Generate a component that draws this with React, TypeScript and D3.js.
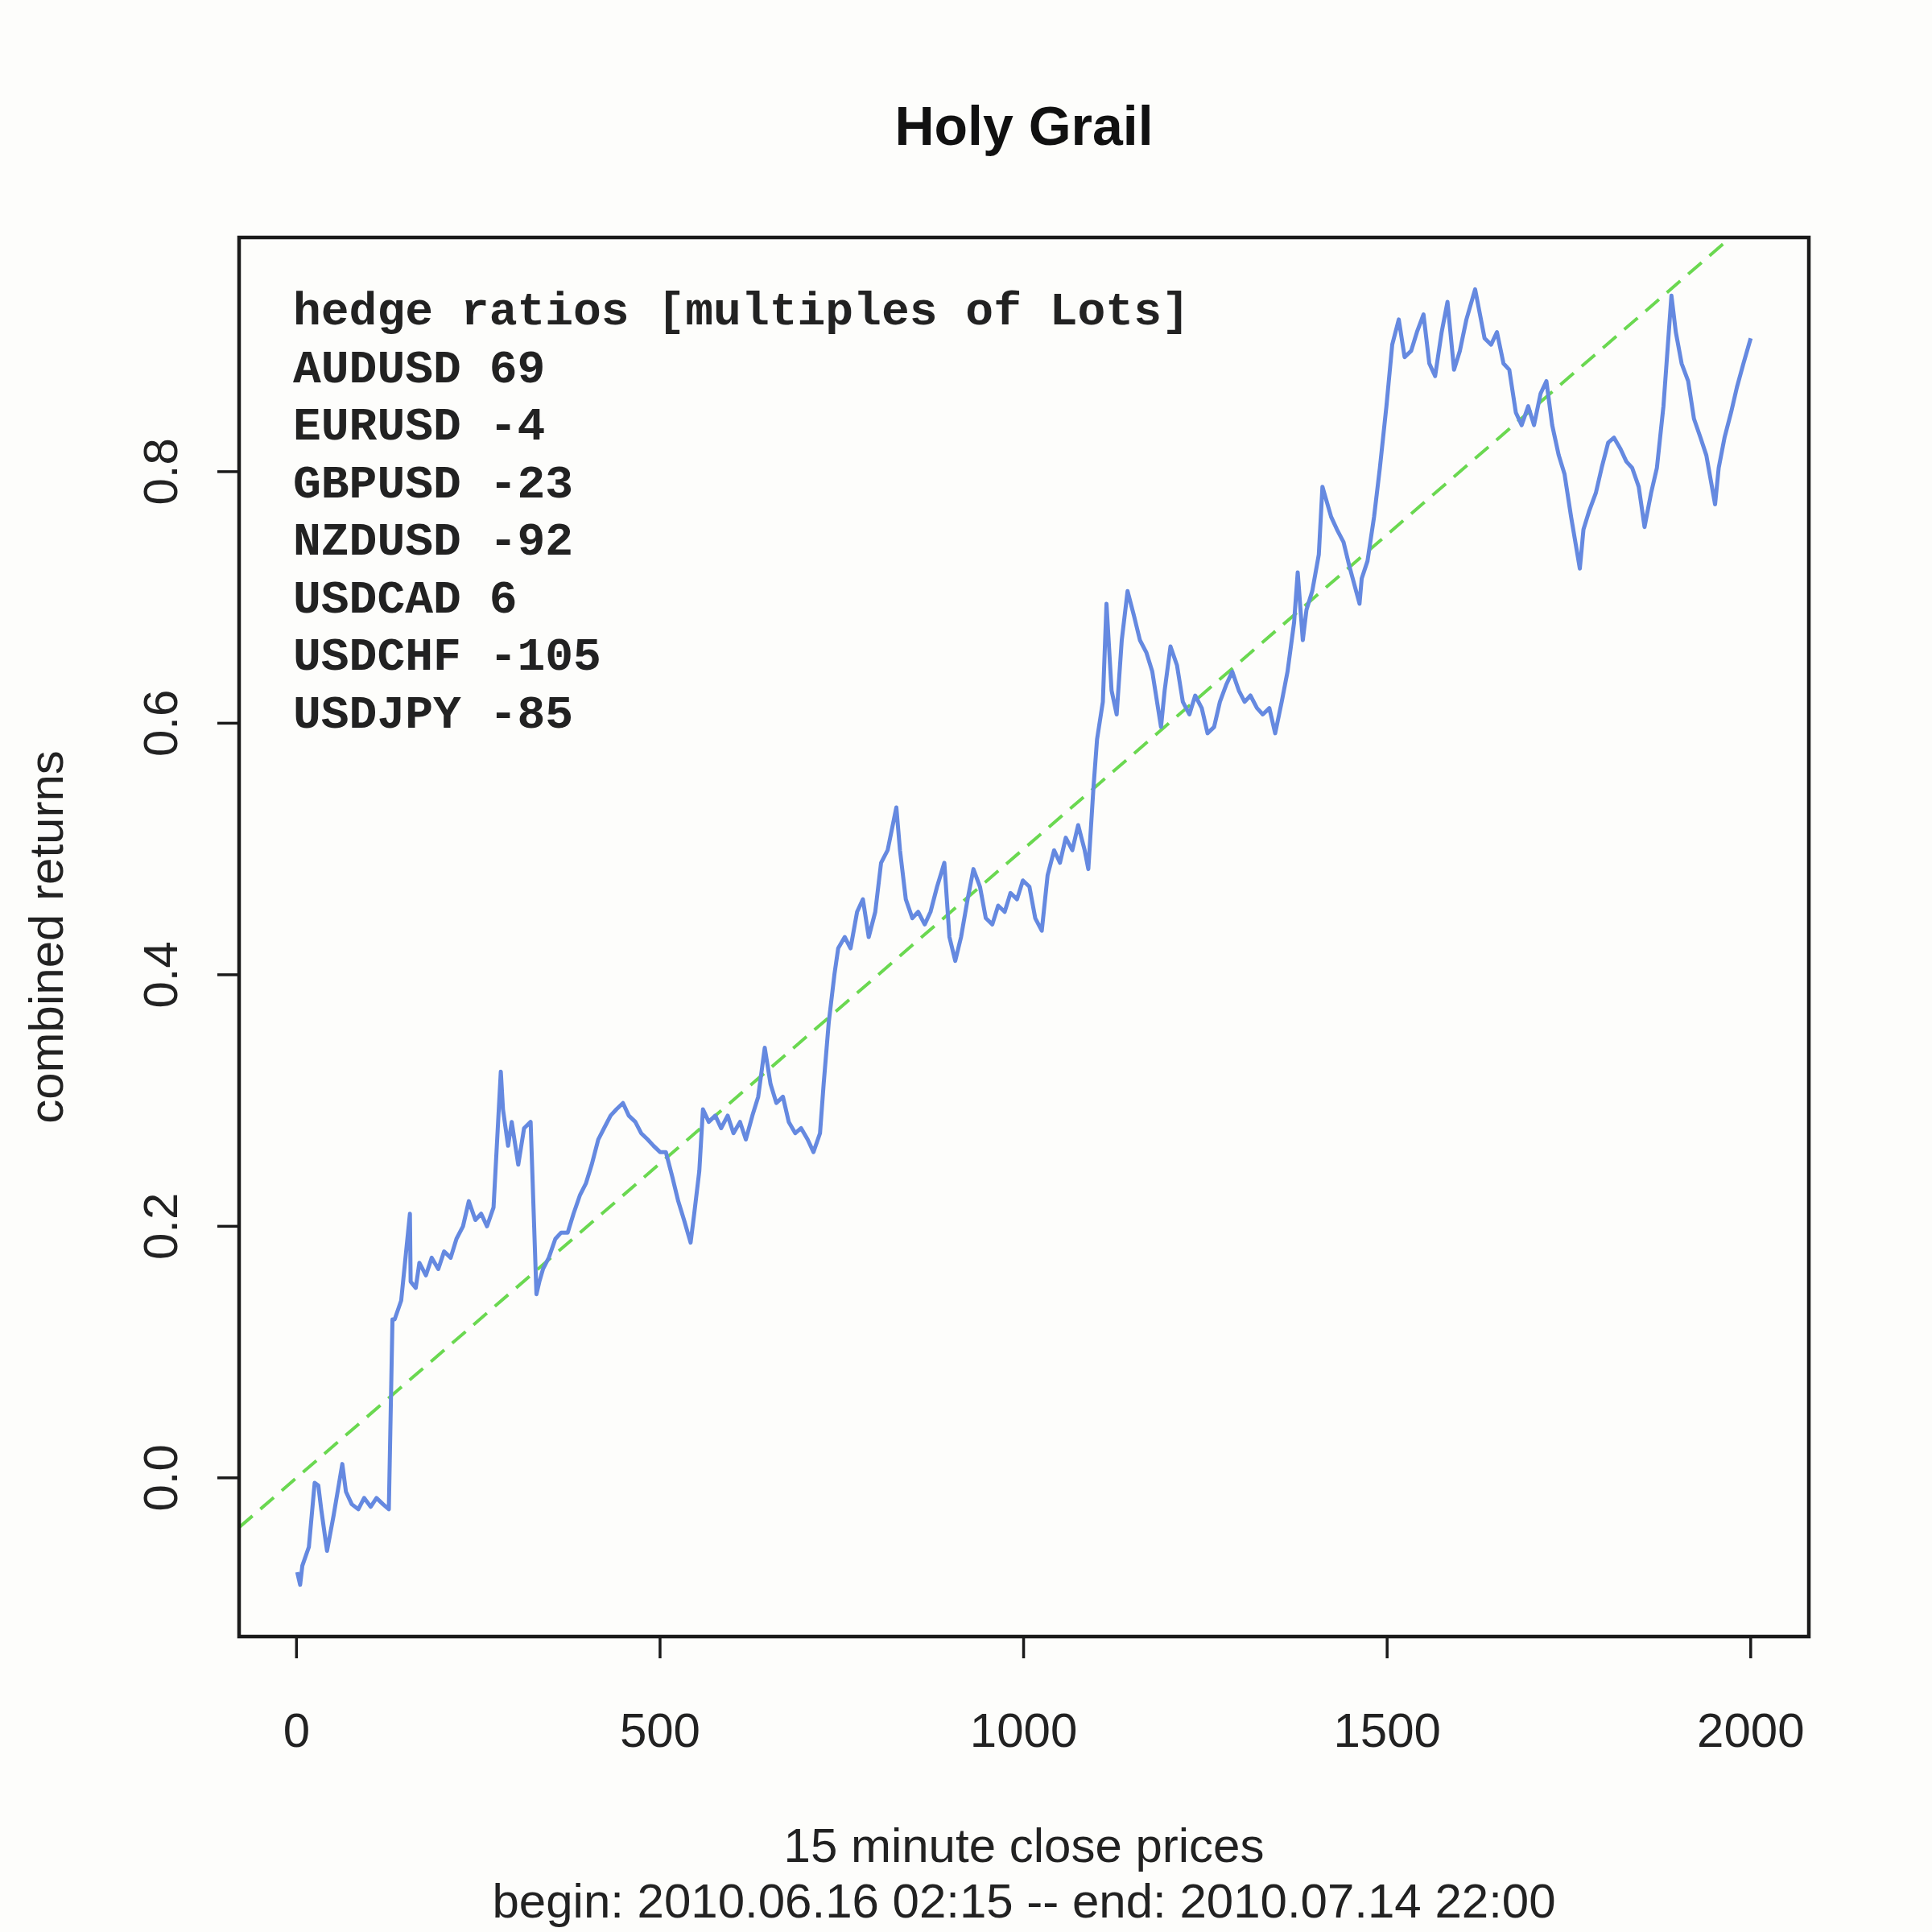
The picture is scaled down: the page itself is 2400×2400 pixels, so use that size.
import { useEffect, useRef } from 'react';
import * as d3 from 'd3';

// series: bar index (15 minute closes) and combined return
const barIndex = [
  1, 5, 8, 17, 25, 30, 34, 42, 51, 63, 68, 76, 85, 93, 102, 110, 119, 127, 132, 135,
  144, 156, 157, 164, 169, 178, 186, 195, 203, 212, 220, 229, 237, 246, 254, 262, 271, 281, 284, 291,
  296, 305, 313, 322, 330, 334, 339, 347, 356, 364, 373, 381, 390, 398, 406, 415, 423, 432, 440, 449,
  457, 466, 474, 483, 491, 500, 508, 517, 525, 533, 542, 547, 554, 559, 567, 576, 584, 593, 601, 610,
  618, 627, 635, 644, 652, 660, 669, 677, 686, 694, 703, 711, 720, 725, 732, 740, 745, 754, 762, 771,
  779, 787, 796, 804, 813, 825, 830, 838, 847, 855, 864, 872, 881, 891, 898, 906, 914, 923, 931, 940,
  948, 957, 965, 974, 982, 991, 999, 1008, 1016, 1025, 1033, 1042, 1050, 1058, 1067, 1075, 1084, 1089, 1096, 1101,
  1109, 1114, 1121, 1128, 1135, 1143, 1152, 1160, 1169, 1177, 1189, 1194, 1202, 1211, 1219, 1228, 1236, 1245, 1253, 1262,
  1270, 1279, 1287, 1296, 1304, 1312, 1321, 1329, 1338, 1346, 1355, 1363, 1372, 1377, 1384, 1389, 1397, 1406, 1411, 1423,
  1431, 1440, 1448, 1462, 1465, 1473, 1482, 1490, 1499, 1507, 1516, 1524, 1533, 1541, 1550, 1558, 1566, 1575, 1583, 1592,
  1600, 1609, 1621, 1626, 1634, 1643, 1651, 1660, 1668, 1677, 1685, 1694, 1702, 1711, 1719, 1727, 1736, 1744, 1753, 1765,
  1770, 1778, 1787, 1795, 1804, 1812, 1821, 1829, 1837, 1846, 1854, 1863, 1871, 1880, 1891, 1897, 1905, 1914, 1922, 1931,
  1939, 1951, 1956, 1964, 1973, 1981, 1990, 2000,
];

const combinedReturns = [
  -0.075, -0.085, -0.07, -0.055, -0.004, -0.006, -0.025, -0.058, -0.03, 0.011, -0.011, -0.021, -0.025, -0.016, -0.023, -0.016, -0.021, -0.025, 0.126, 0.126,
  0.141, 0.21, 0.156, 0.151, 0.171, 0.161, 0.175, 0.166, 0.18, 0.175, 0.19, 0.2, 0.22, 0.205, 0.21, 0.2, 0.215, 0.323, 0.293, 0.264,
  0.283, 0.249, 0.278, 0.283, 0.146, 0.156, 0.166, 0.175, 0.19, 0.195, 0.195, 0.21, 0.225, 0.234, 0.249, 0.269, 0.278, 0.288, 0.293, 0.298,
  0.288, 0.283, 0.274, 0.269, 0.264, 0.259, 0.259, 0.239, 0.22, 0.205, 0.187, 0.21, 0.244, 0.293, 0.283, 0.288, 0.278, 0.288, 0.274, 0.283,
  0.269, 0.288, 0.303, 0.342, 0.313, 0.298, 0.303, 0.283, 0.274, 0.278, 0.269, 0.259, 0.274, 0.313, 0.362, 0.401, 0.421, 0.43, 0.421, 0.45,
  0.46, 0.43, 0.45, 0.489, 0.499, 0.533, 0.499, 0.46, 0.445, 0.45, 0.44, 0.45, 0.47, 0.489, 0.43, 0.411, 0.43, 0.46, 0.484, 0.47,
  0.445, 0.44, 0.455, 0.45, 0.465, 0.46, 0.475, 0.47, 0.445, 0.435, 0.479, 0.499, 0.489, 0.509, 0.499, 0.519, 0.499, 0.484, 0.548, 0.587,
  0.617, 0.695, 0.626, 0.607, 0.666, 0.705, 0.685, 0.666, 0.656, 0.641, 0.597, 0.626, 0.661, 0.646, 0.617, 0.607, 0.622, 0.612, 0.592, 0.597,
  0.617, 0.631, 0.641, 0.626, 0.617, 0.622, 0.612, 0.607, 0.612, 0.592, 0.617, 0.641, 0.68, 0.72, 0.666, 0.69, 0.705, 0.734, 0.788, 0.764,
  0.754, 0.744, 0.725, 0.695, 0.715, 0.729, 0.764, 0.803, 0.852, 0.901, 0.921, 0.891, 0.896, 0.911, 0.925, 0.886, 0.876, 0.911, 0.935, 0.881,
  0.896, 0.921, 0.945, 0.93, 0.906, 0.901, 0.911, 0.886, 0.881, 0.847, 0.837, 0.852, 0.837, 0.862, 0.872, 0.837, 0.813, 0.798, 0.764, 0.723,
  0.754, 0.769, 0.783, 0.803, 0.823, 0.827, 0.818, 0.808, 0.803, 0.788, 0.756, 0.783, 0.803, 0.852, 0.94, 0.911, 0.886, 0.872, 0.842, 0.827,
  0.813, 0.774, 0.803, 0.827, 0.847, 0.867, 0.886, 0.906,
];

// reference trend line: intercept and slope
const trendIntercept = 0;
const trendSlope = 0.0005;

const xTicks = [0, 500, 1000, 1500, 2000];
const yTicks = [0, 0.2, 0.4, 0.6, 0.8];

const pairNames = ['AUDUSD', 'EURUSD', 'GBPUSD', 'NZDUSD', 'USDCAD', 'USDCHF', 'USDJPY'];
const hedgeLots = [69, -4, -23, -92, 6, -105, -85];

const W = 2400;
const H = 2400;
const box = { left: 297, right: 2247, top: 295, bottom: 2033 };

// R style axis padding: 4% on each side
const pad = (ext: [number, number]): [number, number] => {
  const d = (ext[1] - ext[0]) * 0.04;
  return [ext[0] - d, ext[1] + d];
};

const App = () => {
  const ref = useRef<SVGSVGElement>(null);

  useEffect(() => {
    const svg = d3.select(ref.current);
    svg.selectAll('*').remove();

    const x = d3.scaleLinear()
      .domain(pad(d3.extent(barIndex) as [number, number]))
      .range([box.left, box.right]);
    const y = d3.scaleLinear()
      .domain(pad(d3.extent(combinedReturns) as [number, number]))
      .range([box.bottom, box.top]);

    svg.append('rect').attr('width', W).attr('height', H).attr('fill', '#fdfdfb');

    svg.append('defs').append('clipPath').attr('id', 'plotclip')
      .append('rect')
      .attr('x', box.left).attr('y', box.top)
      .attr('width', box.right - box.left).attr('height', box.bottom - box.top);

    const plot = svg.append('g').attr('clip-path', 'url(#plotclip)');

    // dashed trend line across the whole plot region
    const [x0, x1] = x.domain();
    plot.append('line')
      .attr('x1', x(x0)).attr('y1', y(trendIntercept + trendSlope * x0))
      .attr('x2', x(x1)).attr('y2', y(trendIntercept + trendSlope * x1))
      .attr('stroke', '#6ad850')
      .attr('stroke-width', 4)
      .attr('stroke-dasharray', '22,13');

    const line = d3.line<number>()
      .x((_, i) => x(barIndex[i]))
      .y(d => y(d));

    plot.append('path')
      .datum(combinedReturns)
      .attr('d', line)
      .attr('fill', 'none')
      .attr('stroke', '#6589e0')
      .attr('stroke-width', 5)
      .attr('stroke-linejoin', 'round');

    // frame
    svg.append('rect')
      .attr('x', box.left).attr('y', box.top)
      .attr('width', box.right - box.left).attr('height', box.bottom - box.top)
      .attr('fill', 'none').attr('stroke', '#1a1a1a').attr('stroke-width', 4.5);

    const font = '"Liberation Sans", Arial, sans-serif';

    // x axis
    const xAxis = svg.append('g');
    xTicks.forEach(t => {
      xAxis.append('line')
        .attr('x1', x(t)).attr('x2', x(t))
        .attr('y1', box.bottom).attr('y2', box.bottom + 27)
        .attr('stroke', '#1a1a1a').attr('stroke-width', 3.5);
      xAxis.append('text')
        .attr('x', x(t)).attr('y', 2170)
        .attr('text-anchor', 'middle')
        .attr('font-family', font).attr('font-size', 60).attr('fill', '#222')
        .text(String(t));
    });

    // y axis
    const yAxis = svg.append('g');
    yTicks.forEach(t => {
      yAxis.append('line')
        .attr('x1', box.left - 27).attr('x2', box.left)
        .attr('y1', y(t)).attr('y2', y(t))
        .attr('stroke', '#1a1a1a').attr('stroke-width', 3.5);
      yAxis.append('text')
        .attr('transform', `translate(220,${y(t)}) rotate(-90)`)
        .attr('text-anchor', 'middle')
        .attr('font-family', font).attr('font-size', 60).attr('fill', '#222')
        .text(t.toFixed(1));
    });

    svg.append('text')
      .attr('x', (box.left + box.right) / 2).attr('y', 180)
      .attr('text-anchor', 'middle')
      .attr('font-family', font).attr('font-size', 68).attr('font-weight', 'bold').attr('fill', '#111')
      .text('Holy Grail');

    svg.append('text')
      .attr('transform', `translate(78,${(box.top + box.bottom) / 2}) rotate(-90)`)
      .attr('text-anchor', 'middle')
      .attr('font-family', font).attr('font-size', 60).attr('fill', '#222')
      .text('combined returns');

    svg.append('text')
      .attr('x', (box.left + box.right) / 2).attr('y', 2313)
      .attr('text-anchor', 'middle')
      .attr('font-family', font).attr('font-size', 60).attr('fill', '#222')
      .text('15 minute close prices');

    svg.append('text')
      .attr('x', (box.left + box.right) / 2).attr('y', 2382)
      .attr('text-anchor', 'middle')
      .attr('font-family', font).attr('font-size', 60).attr('fill', '#222')
      .text('begin: 2010.06.16 02:15 -- end: 2010.07.14 22:00');

    // hedge ratio legend
    const mono = '"Liberation Mono", "Courier New", monospace';
    const legendLines = ['hedge ratios [multiples of Lots]',
      ...pairNames.map((p, i) => `${p} ${hedgeLots[i]}`)];
    svg.append('g').selectAll('text')
      .data(legendLines)
      .enter()
      .append('text')
      .attr('x', 364)
      .attr('y', (_, i) => 403 + i * 71.5)
      .attr('font-family', mono).attr('font-size', 58).attr('font-weight', 'bold').attr('fill', '#222')
      .attr('xml:space', 'preserve')
      .text(d => d);
  }, []);

  return (
    <svg ref={ref} width={W} height={H}
      style={{ position: 'absolute', left: 0, top: 0, display: 'block' }} />
  );
};

export default App;
